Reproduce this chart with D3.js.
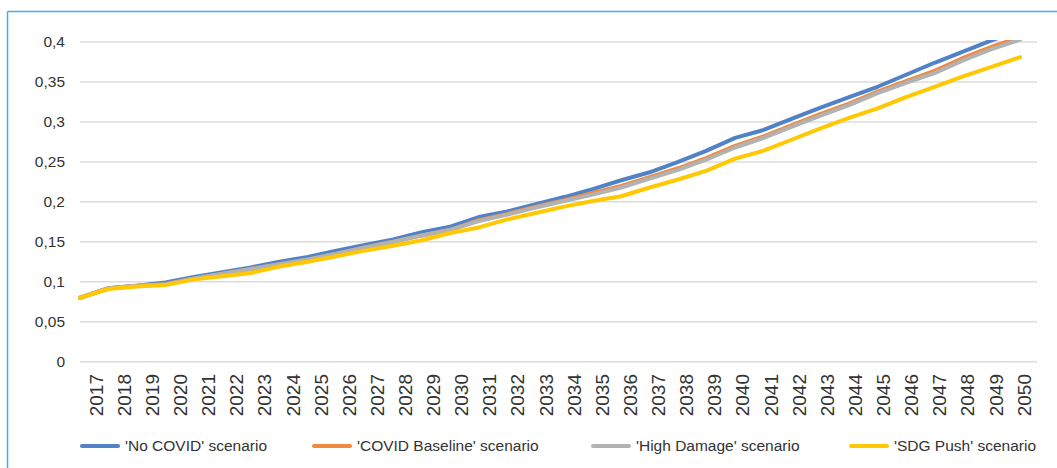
<!DOCTYPE html>
<html>
<head>
<meta charset="utf-8">
<script src="https://cdn.jsdelivr.net/npm/d3@7"></script>
<style>
  html, body { margin: 0; padding: 0; background: #fff; }
  svg { display: block; font-family: "Liberation Sans", Arial, Helvetica, sans-serif; }
</style>
</head>
<body>
<svg id="chart" width="1057" height="468"></svg>
<script>
const years = ["2017","2018","2019","2020","2021","2022","2023","2024","2025","2026","2027","2028","2029","2030","2031","2032","2033","2034","2035","2036","2037","2038","2039","2040","2041","2042","2043","2044","2045","2046","2047","2048","2049","2050"];
const noCovid = [0.080,0.092,0.095,0.099,0.106,0.112,0.118,0.125,0.131,0.139,0.146,0.153,0.162,0.169,0.181,0.188,0.197,0.206,0.216,0.227,0.237,0.250,0.264,0.280,0.290,0.304,0.318,0.331,0.344,0.359,0.374,0.388,0.402,0.415];
const covidBaseline = [0.080,0.092,0.095,0.097,0.104,0.110,0.116,0.122,0.128,0.135,0.143,0.150,0.158,0.165,0.177,0.185,0.194,0.202,0.211,0.220,0.231,0.242,0.255,0.270,0.282,0.296,0.310,0.323,0.338,0.351,0.364,0.380,0.394,0.406];
const highDamage = [0.080,0.092,0.095,0.097,0.104,0.110,0.116,0.122,0.128,0.135,0.143,0.150,0.158,0.165,0.176,0.184,0.193,0.201,0.209,0.218,0.229,0.240,0.253,0.268,0.280,0.294,0.308,0.321,0.336,0.349,0.361,0.377,0.391,0.403];
const sdgPush = [0.080,0.091,0.094,0.096,0.103,0.107,0.111,0.119,0.125,0.132,0.139,0.145,0.152,0.161,0.168,0.178,0.186,0.194,0.201,0.207,0.218,0.228,0.239,0.254,0.264,0.278,0.292,0.305,0.317,0.331,0.344,0.357,0.369,0.381];
const seriesNames = ["'No COVID' scenario","'COVID Baseline' scenario","'High Damage' scenario","'SDG Push' scenario"];
const seriesColors = ["#4f82c6","#ef8a3e","#b2b2b2","#ffc800"];
const yTicks = [0,0.05,0.1,0.15,0.2,0.25,0.3,0.35,0.4];
const yTickLabels = ["0","0,05","0,1","0,15","0,2","0,25","0,3","0,35","0,4"];

const seriesValues = [noCovid, covidBaseline, highDamage, sdgPush];

const svg = d3.select("#chart");

// frame lines
svg.append("line").attr("x1",7.5).attr("x2",7.5).attr("y1",11.5).attr("y2",468)
  .attr("stroke","#3fb2e3").attr("stroke-width",1.5);
svg.append("line").attr("x1",7.5).attr("x2",1057).attr("y1",11.5).attr("y2",11.5)
  .attr("stroke","#3fb2e3").attr("stroke-width",1.5);

const plotLeft = 80, plotRight = 1037, plotTop = 42, plotBottom = 361.7;

const x = d3.scalePoint().domain(years).range([80, 1020]);
const xLabel = d3.scalePoint().domain(years).range([95.5, 1023.5]);
const y = d3.scaleLinear().domain([0, 0.4]).range([plotBottom, plotTop]);

// gridlines
svg.append("g").selectAll("line").data(yTicks).join("line")
  .attr("x1", plotLeft).attr("x2", plotRight)
  .attr("y1", d => y(d)).attr("y2", d => y(d))
  .attr("stroke", "#dcdcdc").attr("stroke-width", 1.5);

// y axis labels
const yAxis = d3.axisLeft(y).tickValues(yTicks).tickSize(0).tickPadding(0)
  .tickFormat((d,i) => yTickLabels[i]);
const gy = svg.append("g").attr("transform", "translate(65,0)").call(yAxis);
gy.select(".domain").remove();
gy.selectAll("text").attr("font-size", "15.5px").attr("fill", "#333").attr("font-family", "Liberation Sans, Arial, sans-serif");

// x axis labels
const xAxis = d3.axisBottom(xLabel).tickSize(0).tickPadding(0);
const gx = svg.append("g").attr("transform", "translate(0,374)").call(xAxis);
gx.select(".domain").remove();
gx.selectAll("text")
  .attr("font-size", "19px").attr("fill", "#333").attr("font-family", "Liberation Sans, Arial, sans-serif")
  .attr("transform", "rotate(-90)")
  .attr("text-anchor", "end")
  .attr("x", 0).attr("y", 0).attr("dy", "0.35em");

// clip
svg.append("clipPath").attr("id", "clip").append("rect")
  .attr("x", 0).attr("y", plotTop - 2).attr("width", 1057).attr("height", 400);

const line = d3.line().x((d,i) => x(years[i])).y(d => y(d));

svg.append("g").attr("clip-path", "url(#clip)")
  .selectAll("path").data(seriesValues).join("path")
  .attr("d", d => line(d))
  .attr("fill", "none")
  .attr("stroke", (d,i) => seriesColors[i])
  .attr("stroke-width", 4)
  .attr("stroke-linejoin", "round")
  .attr("stroke-linecap", "round");

// legend
const legendX = [82, 314, 593, 851];
const lg = svg.append("g").selectAll("g").data(seriesNames).join("g")
  .attr("transform", (d,i) => `translate(${legendX[i]},446)`);
lg.append("line").attr("x1", 0).attr("x2", 36).attr("y1", 0).attr("y2", 0)
  .attr("stroke", (d,i) => seriesColors[i]).attr("stroke-width", 4).attr("stroke-linecap", "round");
lg.append("text").attr("x", 43).attr("y", 0).attr("dy", "0.35em")
  .attr("font-size", "15.5px").attr("fill", "#333").text(d => d);
</script>
</body>
</html>
